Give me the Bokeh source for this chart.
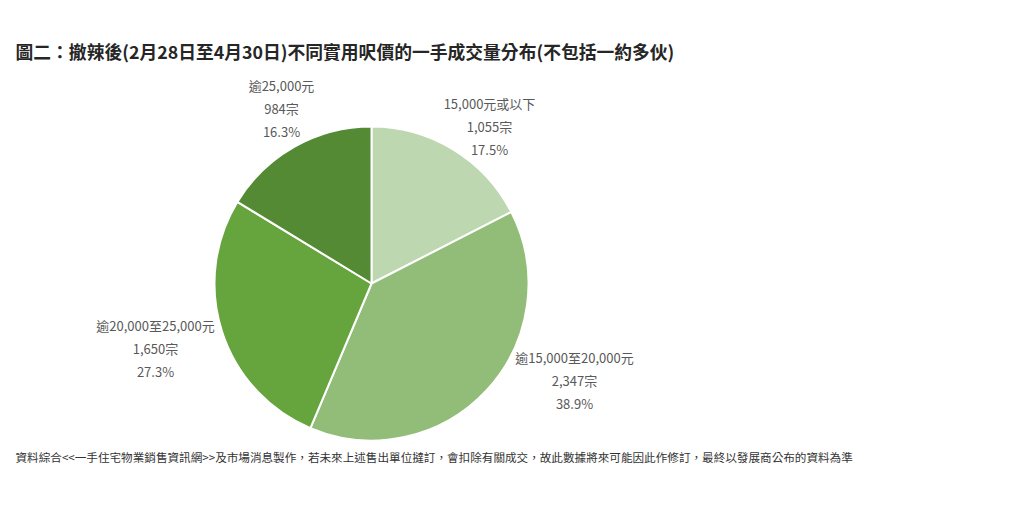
import math
from bokeh.plotting import figure
from bokeh.models import Range1d, ColumnDataSource
from bokeh.core.properties import value
from bokeh.embed import file_html
from bokeh.resources import INLINE

# ---- data ----
categories = ["15,000元或以下", "逾15,000至20,000元", "逾20,000至25,000元", "逾25,000元"]
counts = [1055, 2347, 1650, 984]
percents = ["17.5%", "38.9%", "27.3%", "16.3%"]
colors = ["#bdd7b0", "#92bd78", "#66a43e", "#548a34"]
title_text = "圖二：撤辣後(2月28日至4月30日)不同實用呎價的一手成交量分布(不包括一約多伙)"
note_text = ("資料綜合<<一手住宅物業銷售資訊網>>及市場消息製作，若未來上述售出單位撻訂，"
             "會扣除有關成交，故此數據將來可能因此作修訂，最終以發展商公布的資料為準")

# ---- layout (page pixel coordinates) ----
W, H = 1008, 493
def X(px): return px
def Y(py): return H - py

FONT = "Noto Sans CJK TC"
cx, cy, R = 371, 283, 157
label_pos = [(489, 103), (574, 357), (155, 325), (281, 85)]
line_gap = 23

p = figure(width=W, height=H, x_range=Range1d(0, W), y_range=Range1d(0, H),
           output_backend="svg", toolbar_location=None, min_border=0)
p.axis.visible = False
p.grid.visible = False
p.outline_line_color = None
p.background_fill_color = "white"
p.border_fill_color = "white"

total = sum(counts)
starts, ends = [], []
cum = 0.0
for c in counts:
    starts.append(math.pi / 2 - 2 * math.pi * cum / total)
    cum += c
    ends.append(math.pi / 2 - 2 * math.pi * cum / total)

src = ColumnDataSource(dict(x=[X(cx)] * 4, y=[Y(cy)] * 4, s=starts, e=ends, c=colors))
p.wedge(x="x", y="y", radius=R, radius_units="screen", start_angle="s", end_angle="e",
        direction="clock", fill_color="c", line_color="white", line_width=2, source=src)

# labels
lx, ly, lt = [], [], []
for i, cat in enumerate(categories):
    px, py = label_pos[i]
    lines = [cat, f"{counts[i]:,}宗", percents[i]]
    for k, t in enumerate(lines):
        lx.append(X(px)); ly.append(Y(py + k * line_gap)); lt.append(t)
p.text(x=lx, y=ly, text=lt, text_font=value(FONT), text_font_size="13px",
       text_color="#595959", text_align="center", text_baseline="middle")

p.text(x=[X(15)], y=[Y(50)], text=[title_text], text_font=value(FONT),
       text_font_size="17.8px", text_font_style="bold", text_color="#262626",
       text_align="left", text_baseline="middle")
p.text(x=[X(15)], y=[Y(456)], text=[note_text], text_font=value(FONT),
       text_font_size="11.6px", text_color="#333333",
       text_align="left", text_baseline="middle")

open("out.html", "w").write(file_html(p, INLINE))
